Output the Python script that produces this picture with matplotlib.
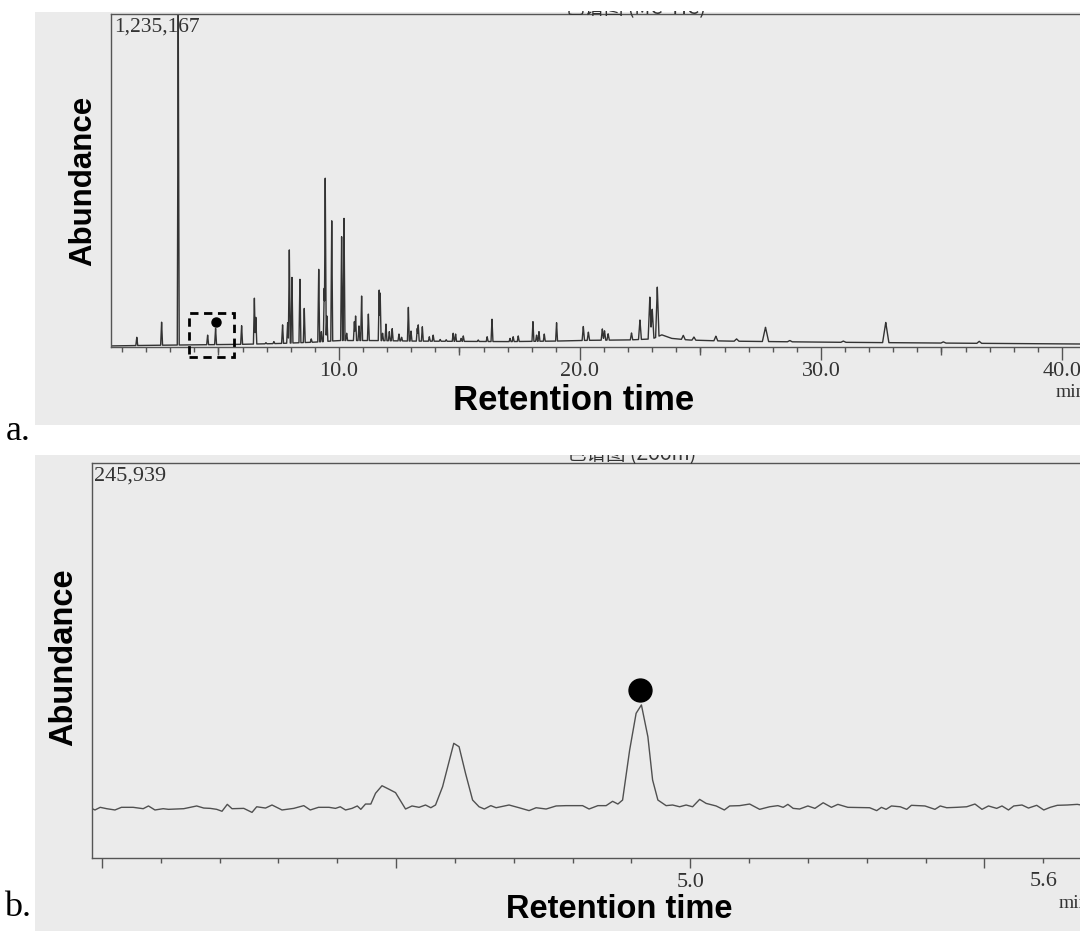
import numpy as np
import matplotlib.pyplot as plt
from matplotlib.patches import Rectangle
from matplotlib.ticker import FixedLocator, MultipleLocator, FuncFormatter

# ---- data ----
# panel a: full TIC, baseline drift + peak list (time [min], apex abundance, half width [min])
base_t = [0.54, 2.0, 4.0, 6.0, 7.5, 9.0, 10.0, 11.5, 13.0, 15.0, 17.0, 19.0, 20.5,
          22.0, 23.0, 23.4, 23.8, 24.5, 26.0, 28.0, 30.0, 33.0, 36.0, 39.0, 41.0]
base_ab = [4000, 6000, 8000, 10000, 13000, 18000, 24000, 24000, 22000, 21000, 20000, 22000, 25000,
           26000, 30000, 45000, 32000, 26000, 22000, 20000, 18000, 16000, 14000, 12000, 11000]

peak_t = [1.61, 2.64, 3.33, 4.55, 4.88, 5.96, 6.49, 6.55, 6.97, 7.30, 7.66, 7.87, 7.94, 8.05,
          8.38, 8.56, 8.85, 9.16, 9.27, 9.39, 9.43, 9.50, 9.70, 10.11, 10.21, 10.32, 10.64,
          10.69, 10.83, 10.94, 11.22, 11.67, 11.71, 11.81, 11.95, 12.09, 12.21, 12.49, 12.60,
          12.88, 12.99, 13.25, 13.29, 13.46, 13.75, 13.91, 14.20, 14.45, 14.74, 14.84, 15.07,
          15.16, 15.78, 16.15, 16.35, 17.10, 17.23, 17.44, 18.05, 18.20, 18.30, 18.52, 19.03,
          20.14, 20.35, 20.93, 21.02, 21.17, 22.14, 22.49, 22.90, 23.00, 23.21, 24.29, 24.73,
          25.64, 26.50, 27.70, 28.71, 30.93, 32.69, 35.08, 36.57]
peak_ab = [36000, 92000, 1235167, 44000, 69000, 79000, 181000, 110000, 16000, 20000, 82000,
           90000, 360000, 258000, 251000, 143000, 30000, 288000, 57000, 218000, 626000, 115000,
           468000, 409000, 477000, 51000, 94000, 115000, 78000, 189000, 122000, 211000, 200000,
           51000, 85000, 57000, 68000, 48000, 36000, 147000, 59000, 69000, 82000, 75000, 38000,
           44000, 28000, 27000, 51000, 48000, 32000, 41000, 26000, 38000, 103000, 32000, 38000,
           41000, 94000, 44000, 57000, 48000, 90000, 76000, 55000, 67000, 60000, 49000, 52000,
           100000, 185000, 140000, 222000, 43000, 37000, 40000, 30000, 73000, 24000, 22000,
           91000, 19000, 21000]
peak_w = [0.04] * 63 + [0.05] * 6 + [0.06, 0.07, 0.07, 0.07, 0.08, 0.08, 0.08, 0.10, 0.13,
                                     0.10, 0.10, 0.13, 0.10, 0.10]

a_ymax = 1235167
zoom_box = (3.78, 5.64, -37000, 126000)   # dashed window marked in panel a
a_dot = (4.88, 93800)

# panel b: zoomed trace vertices
b_t = [3.980, 3.988, 3.997, 4.008, 4.022, 4.033, 4.053, 4.070, 4.079, 4.090, 4.104, 4.113,
       4.139, 4.161, 4.173, 4.184, 4.195, 4.204, 4.213, 4.221, 4.241, 4.255, 4.263, 4.278,
       4.289, 4.306, 4.326, 4.343, 4.354, 4.368, 4.386, 4.397, 4.405, 4.414, 4.425, 4.434,
       4.440, 4.448, 4.457, 4.465, 4.476, 4.488, 4.499, 4.516, 4.527, 4.539, 4.550, 4.559,
       4.567, 4.579, 4.598, 4.607, 4.618, 4.630, 4.641, 4.650, 4.661, 4.670, 4.692, 4.709,
       4.726, 4.738, 4.755, 4.772, 4.789, 4.817, 4.828, 4.843, 4.857, 4.868, 4.877, 4.885,
       4.897, 4.908, 4.917, 4.928, 4.936, 4.945, 4.959, 4.970, 4.982, 4.993, 5.004, 5.016,
       5.027, 5.044, 5.058, 5.067, 5.084, 5.101, 5.118, 5.135, 5.149, 5.158, 5.166, 5.175,
       5.186, 5.200, 5.212, 5.226, 5.240, 5.251, 5.268, 5.305, 5.317, 5.325, 5.333, 5.342,
       5.357, 5.368, 5.376, 5.399, 5.416, 5.425, 5.436, 5.453, 5.470, 5.484, 5.496, 5.507,
       5.521, 5.530, 5.541, 5.550, 5.564, 5.575, 5.589, 5.601, 5.612, 5.624, 5.641, 5.658, 5.680]
b_ab = [31300, 29900, 31550, 30700, 29900, 31550, 31550, 30700, 32400, 29900, 30700, 30300,
        30700, 32400, 31100, 30900, 30300, 29100, 33400, 30700, 30900, 28400, 31900, 31100,
        33000, 29900, 30900, 32600, 29900, 31550, 31550, 30900, 31900, 29900, 30900, 32400,
        30300, 33600, 33600, 40300, 45000, 42800, 40700, 30500, 32400, 31550, 33000, 31300,
        33000, 44400, 71400, 69300, 52700, 36100, 31900, 30500, 32600, 31300, 33000, 31300,
        29500, 31300, 30500, 32400, 32600, 32600, 30500, 32600, 32600, 35300, 33600, 36100,
        67200, 90100, 95300, 75500, 48600, 36100, 32600, 33000, 31900, 33000, 31900, 36500,
        34000, 32400, 29900, 32400, 32600, 33600, 30300, 31900, 32600, 31550, 33400, 30900,
        30500, 32400, 30900, 34400, 31550, 33400, 31550, 31300, 29500, 31550, 30300, 32400,
        31900, 30300, 32800, 32400, 30300, 32400, 31300, 31550, 31900, 33600, 30300, 32400,
        30900, 32400, 29900, 32400, 33000, 31100, 32800, 29900, 31550, 32800, 33000, 33400, 32000]
b_ymax = 245939
b_dot = (4.915, 104600)

W, H = 1080, 931
paper = '#ebebeb'
ink = '#333333'
serif = 'Liberation Serif'
sans = 'Liberation Sans'
cjk = ['Noto Sans CJK SC', 'DejaVu Sans']


def fr(x0, y0, x1, y1):
    # pixel box (top-left origin) -> figure fraction [l, b, w, h]
    return [x0 / W, 1 - y1 / H, (x1 - x0) / W, (y1 - y0) / H]


fig = plt.figure(figsize=(W / 100, H / 100), dpi=100)
fig.patch.set_facecolor('white')

# scanned paper backgrounds
for box in [(35, 12, 1080, 425), (35, 455, 1080, 931)]:
    l, b, w, h = fr(*box)
    fig.patches.append(Rectangle((l, b), w, h, transform=fig.transFigure,
                                 facecolor=paper, edgecolor='none', zorder=-5))

# window titles, cropped by the scan: only their lower edge shows
fig.text(635 / W, 1 - 14 / H, '色谱图 (MC-TIC)', ha='center', va='baseline', fontsize=14,
         color='#333', family=cjk, zorder=1)
fig.text(632 / W, 1 - 460 / H, '色谱图 (Zoom)', ha='center', va='baseline', fontsize=14,
         color='#333', family=cjk, zorder=1)
for box in [(0, 0, 1080, 11), (35, 425, 1080, 455)]:
    l, b, w, h = fr(*box)
    fig.patches.append(Rectangle((l, b), w, h, transform=fig.transFigure,
                                 facecolor='white', edgecolor='none', zorder=2))


def style_axes(ax):
    ax.set_facecolor('none')
    for s in ['left', 'top', 'bottom']:
        ax.spines[s].set_color('#555')
        ax.spines[s].set_linewidth(1.0)
    ax.spines['right'].set_visible(False)
    ax.set_yticks([])
    ax.tick_params(axis='x', which='both', direction='out', color='#555', width=1,
                   labelcolor='#333', labelsize=16)
    for lab in ax.get_xticklabels() + ax.get_xticklabels(minor=True):
        lab.set_family(serif)


# ---- panel a ----
ax = fig.add_axes(fr(111, 14, 1086, 347))
t = np.union1d(np.arange(0.54, 41.0, 0.01), peak_t)
base = np.interp(t, base_t, base_ab)
bump = np.zeros_like(t)
for pt, pa, pw in zip(peak_t, peak_ab, peak_w):
    h = pa - np.interp(pt, base_t, base_ab)
    bump = np.maximum(bump, h * np.clip(1 - np.abs(t - pt) / pw, 0, None))
ax.plot(t, base + bump, color=ink, lw=1.0)
ax.set_xlim(0.54, 41.0)
ax.set_ylim(0, a_ymax)
ax.xaxis.set_major_locator(FixedLocator([10, 20, 30, 40]))
ax.xaxis.set_major_formatter(FuncFormatter(lambda v, p: f'{v:.1f}'))
ax.xaxis.set_minor_locator(MultipleLocator(1))
ax.tick_params(axis='x', which='major', length=9, pad=2)
ax.tick_params(axis='x', which='minor', length=3.5)
style_axes(ax)
sec = ax.secondary_xaxis('bottom')
sec.set_xticks([5, 15, 25, 35])
sec.set_xticklabels([])
sec.tick_params(length=6, color='#555', width=1)
sec.spines['bottom'].set_visible(False)
ax.annotate('1,235,167', xy=(0, 1), xycoords='axes fraction', xytext=(3, -4),
            textcoords='offset pixels', ha='left', va='top', fontsize=15.5,
            family=serif, color='#333')
ax.annotate('min', xy=(39.75, 0), xycoords=('data', 'axes fraction'), xytext=(0, -37),
            textcoords='offset pixels', ha='left', va='top', fontsize=14,
            family=serif, color='#333', annotation_clip=False)
x0, x1, y0, y1 = zoom_box
ax.add_patch(Rectangle((x0, y0), x1 - x0, y1 - y0, fill=False, edgecolor='black',
                       lw=2, linestyle=(0, (3, 2)), clip_on=False, zorder=4))
ax.plot(*a_dot, 'o', color='black', ms=6.5, zorder=5)

fig.text(83 / W, 1 - 181 / H, 'Abundance', rotation=90, ha='center', va='center',
         fontsize=22.5, fontweight='bold', family=sans)
fig.text(574 / W, 1 - 400 / H, 'Retention time', ha='center', va='center',
         fontsize=25, fontweight='bold', family=sans)
fig.text(18 / W, 1 - 432 / H, 'a.', ha='center', va='center', fontsize=26,
         family=serif, zorder=3)

# ---- panel b ----
bx = fig.add_axes(fr(92, 463, 1102, 858))
bx.plot(b_t, b_ab, color='#505050', lw=1.0)
bx.set_xlim(3.983, 5.7)
bx.set_ylim(0, b_ymax)
bx.xaxis.set_major_locator(FixedLocator([4.0, 4.5, 5.0, 5.5]))
bx.xaxis.set_major_formatter(FuncFormatter(lambda v, p: '5.0' if abs(v - 5.0) < 1e-6 else ''))
bx.xaxis.set_minor_locator(MultipleLocator(0.1))
bx.xaxis.set_minor_formatter(FuncFormatter(lambda v, p: '5.6' if abs(v - 5.6) < 1e-6 else ''))
bx.tick_params(axis='x', which='major', length=7, pad=4)
bx.tick_params(axis='x', which='minor', length=3.5, pad=6.5)
style_axes(bx)
bx.annotate('245,939', xy=(0, 1), xycoords='axes fraction', xytext=(2, -4),
            textcoords='offset pixels', ha='left', va='top', fontsize=16,
            family=serif, color='#333')
bx.annotate('min', xy=(5.626, 0), xycoords=('data', 'axes fraction'), xytext=(0, -37),
            textcoords='offset pixels', ha='left', va='top', fontsize=14,
            family=serif, color='#333', annotation_clip=False)
bx.plot(*b_dot, 'o', color='black', ms=16.5, zorder=5)

fig.text(64 / W, 1 - 657 / H, 'Abundance', rotation=90, ha='center', va='center',
         fontsize=23.5, fontweight='bold', family=sans)
fig.text(619 / W, 1 - 910 / H, 'Retention time', ha='center', va='center',
         fontsize=23.5, fontweight='bold', family=sans)
fig.text(18 / W, 1 - 908 / H, 'b.', ha='center', va='center', fontsize=26,
         family=serif, zorder=3)

fig.savefig('out.png', dpi=100)
